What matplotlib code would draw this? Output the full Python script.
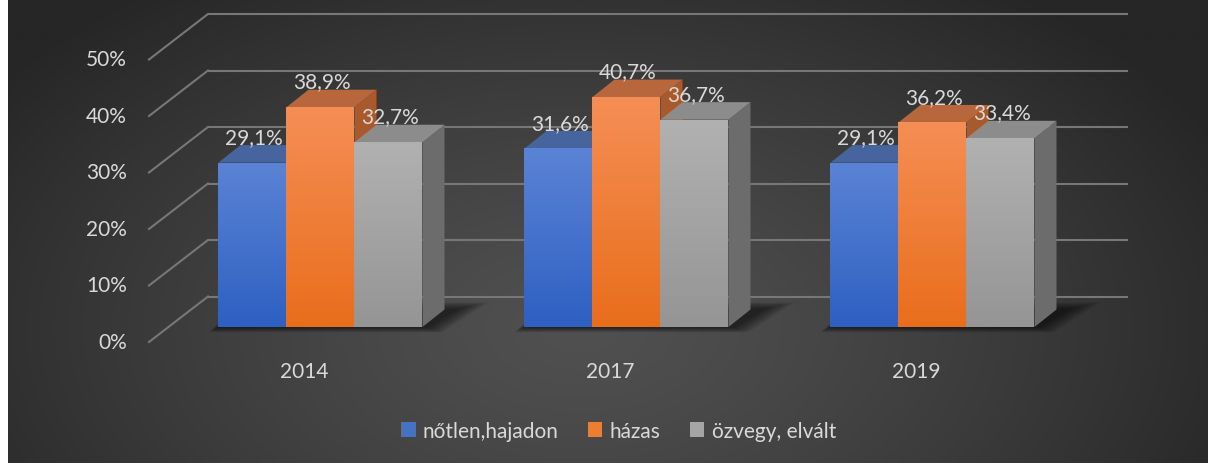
import numpy as np
import matplotlib
matplotlib.use("Agg")
from matplotlib import pyplot as plt
from matplotlib.patches import Polygon, Rectangle, Patch
from matplotlib.colors import to_rgb

years = ["2014", "2017", "2019"]
series = ["nőtlen,hajadon", "házas", "özvegy, elvált"]
notlen = [29.1, 31.6, 29.1]
hazas = [38.9, 40.7, 36.2]
ozvegy = [32.7, 36.7, 33.4]
y_ticks = [0, 10, 20, 30, 40, 50]

values = [notlen, hazas, ozvegy]
front_top = ["#5b83d5", "#f58e55", "#b1b1b1"]
front_bot = ["#2e60c2", "#e96e1c", "#959595"]
top_col = ["#46659f", "#b8663b", "#8c8c8c"]
side_col = ["#3d5c9a", "#a85a2c", "#6c6c6c"]
legend_col = ["#4472c4", "#ed7d31", "#a5a5a5"]
txt = "#d9d9d9"
grid_c = "#777777"
fs = 15

plt.rcParams["font.family"] = ["Lato", "DejaVu Sans"]

W, H = 1208, 464
fig = plt.figure(figsize=(W / 100, H / 100), dpi=100, facecolor="white")

# background with radial shading
bg = fig.add_axes([8 / W, 0, 1 - 8 / W, 1], zorder=0)
bg.set_axis_off()
gx, gy = np.meshgrid(np.linspace(8, W, 400), np.linspace(0, H, 200))
r = np.sqrt(((gx - 580) / 720) ** 2 + ((gy - 330) / 430) ** 2)
r = np.clip(r, 0, 1) ** 1.3
c0, c1 = np.array(to_rgb("#505050")), np.array(to_rgb("#262626"))
img = c0[None, None, :] * (1 - r[..., None]) + c1[None, None, :] * r[..., None]
bg.imshow(img, aspect="auto", extent=(0, 1, 0, 1), origin="upper")
bg.set_xlim(0, 1)
bg.set_ylim(0, 1)

# main axes: x in category units, y in percent on the bars' front plane
ax = fig.add_axes([0, 0, 1, 1], zorder=1)
ax.set_axis_off()
ax.patch.set_alpha(0)
px_x = 306.0   # pixels per category
px_y = 5.65    # pixels per percent
x0 = 320.5 / px_x

# 3D projection offsets
DX, DY = 59 / px_x, 45.5 / px_y          # full floor depth
front_y0 = -15 / px_y                    # front edge of floor for 0%
left_front = (149 - 320.5) / px_x
right_end = (1128 - 320.5) / px_x
bdx, bdy = 22 / px_x, 17.5 / px_y        # bar depth
bw = 68 / px_x                           # bar width

# walls: back gridlines + left diagonals
for v in y_ticks:
    yb = v + front_y0 + DY
    ax.plot([left_front + DX, right_end], [yb, yb], color=grid_c, lw=1.5, zorder=2,
            solid_capstyle="butt")
    ax.plot([left_front, left_front + DX], [v + front_y0, yb], color=grid_c, lw=1.5,
            zorder=2)
    ax.text(left_front - 22 / px_x, v + front_y0, f"{v}%", ha="right", va="center",
            color=txt, fontsize=fs)

# bars
n = len(series)
for i, year in enumerate(years):
    gl = i - n * bw / 2
    gr = i + n * bw / 2
    # soft shadow on the floor
    for k in range(9):
        e = 0.006 * (k + 1)
        ey = 0.35 * (k + 1)
        shadow = Polygon([(gl - e * 0.6, -ey * 0.3), (gr + e + 0.01, -ey * 0.3),
                          (gr + bdx + e * 2 + 0.035, bdy + ey * 0.4),
                          (gl + bdx, bdy + ey * 0.4)],
                         closed=True, facecolor="black", edgecolor="none",
                         alpha=0.075, zorder=3)
        ax.add_patch(shadow)
    for j in range(n):
        v = values[j][i]
        xl = gl + j * bw
        xr = xl + bw
        z = 5 + j
        side = Polygon([(xr, 0), (xr + bdx, bdy), (xr + bdx, v + bdy), (xr, v)],
                       closed=True, facecolor=side_col[j], edgecolor="none", zorder=z)
        ax.add_patch(side)
        top = Polygon([(xl, v), (xr, v), (xr + bdx, v + bdy), (xl + bdx, v + bdy)],
                      closed=True, facecolor=top_col[j], edgecolor="none", zorder=z)
        ax.add_patch(top)
        front = Rectangle((xl, 0), bw, v, facecolor="none", edgecolor="none", zorder=z)
        ax.add_patch(front)
        t = np.linspace(0, 1, 64)[:, None]
        ca, cb = np.array(to_rgb(front_top[j])), np.array(to_rgb(front_bot[j]))
        grad = (ca[None, None, :] * (1 - t[..., None]) + cb[None, None, :] * t[..., None])
        im = ax.imshow(grad, aspect="auto", extent=(xl, xr, 0, v), origin="upper",
                       zorder=z, interpolation="bilinear")
        im.set_clip_path(front)
        ax.text(xl + bw / 2 + 0.005, v + bdy - 0.3, f"{v:.1f}%".replace(".", ","),
                ha="center", va="bottom", color=txt, fontsize=fs, zorder=20)
    ax.text(i - 16 / px_x, -44 / px_y, year, ha="center", va="center", color=txt,
            fontsize=fs)

ax.set_xlim(-x0, (W - 320.5) / px_x)
ax.set_ylim(-(H - 328) / px_y, 328 / px_y)

handles = [Patch(facecolor=c, edgecolor="none") for c in legend_col]
leg = fig.legend(handles, series, loc="center", bbox_to_anchor=(0.512, 1 - 432 / H),
                 ncol=3, frameon=False, fontsize=fs, handlelength=0.7,
                 handleheight=0.7, handletextpad=0.35, columnspacing=1.4,
                 labelcolor=txt)

fig.savefig("out.png", dpi=100, facecolor="white")
